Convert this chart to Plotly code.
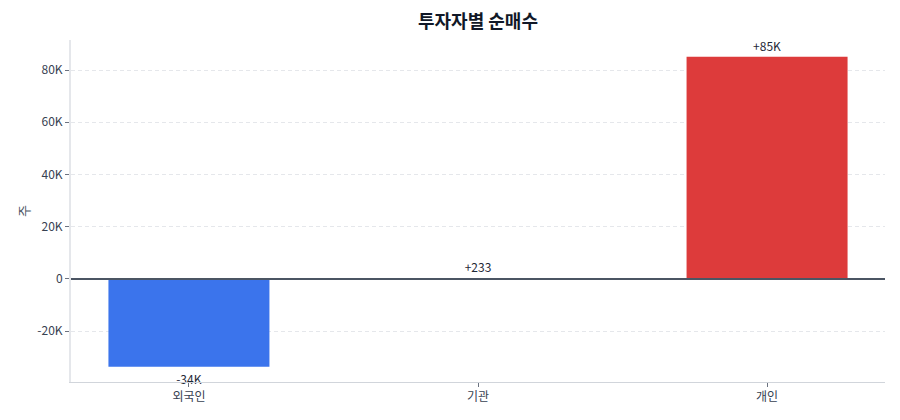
import plotly.graph_objects as go

categories = ["외국인", "기관", "개인"]
values = [-33700, 233, 85100]
labels = ["-34K", "+233", "+85K"]
colors = ["#3b74ec", "#dd3b3b", "#dd3b3b"]

fig = go.Figure(go.Bar(
    x=categories, y=values, text=labels, textposition="outside",
    marker=dict(color=colors, line=dict(width=0)),
    textfont=dict(size=12, color="#1f2937"),
    cliponaxis=False,
))

fig.update_layout(
    width=900, height=420,
    margin=dict(l=63, r=23, t=32, b=46),
    paper_bgcolor="white", plot_bgcolor="white",
    font=dict(family="Noto Sans CJK KR, Noto Sans, sans-serif", size=12, color="#4b5563"),
    title=dict(text="<b>투자자별 순매수</b>", x=0.5, xref="paper", xanchor="center", y=0.967, yanchor="middle",
               font=dict(size=18, color="#111827")),
    bargap=0.443,
    showlegend=False,
)
fig.update_xaxes(range=[-0.408, 2.408], showline=True, linecolor="#d1d5db", linewidth=1, ticks="outside",
                 tickcolor="#6b7280", ticklen=4, showgrid=False, tickfont=dict(size=12, color="#374151"),
                 automargin=False)
fig.update_yaxes(range=[-39500, 91500], tickvals=[-20000, 0, 20000, 40000, 60000, 80000],
                 ticktext=["-20K", "0", "20K", "40K", "60K", "80K"],
                 showline=True, linecolor="#e5e7eb", linewidth=2, ticks="outside",
                 tickcolor="#6b7280", ticklen=4,
                 showgrid=True, gridcolor="#e5e7eb", griddash="4px,3px", gridwidth=1,
                 zeroline=True, zerolinecolor="#4b5563", zerolinewidth=1.5,
                 title=dict(text="주", font=dict(size=13, color="#4b5563"), standoff=5),
                 tickfont=dict(size=12, color="#374151"), automargin=False)
try:
    fig.update_yaxes(zerolinelayer="above traces")
except Exception:
    fig.add_hline(y=0, line=dict(color="#4b5563", width=1.5), layer="above")

fig.write_html("out.html")
